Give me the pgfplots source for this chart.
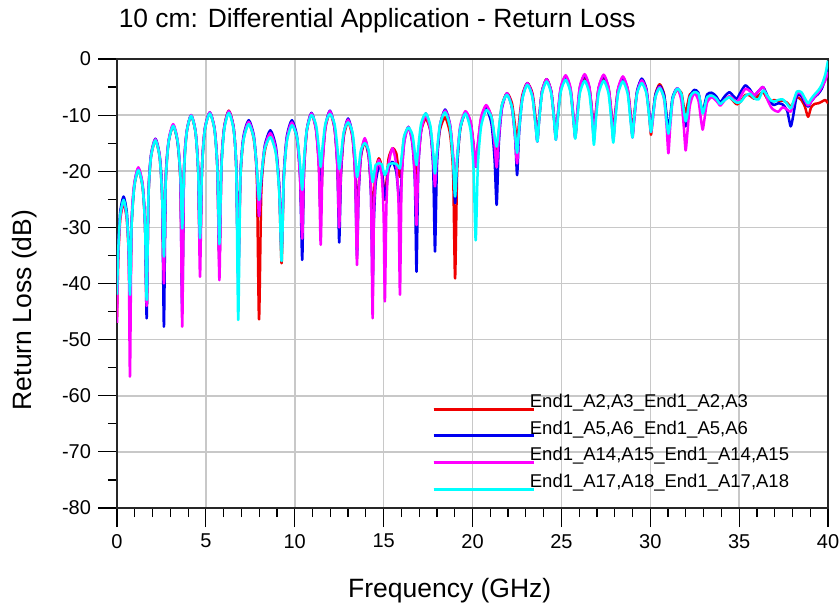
\documentclass[border=0pt]{standalone}
\usepackage{fontspec}
\setmainfont{Liberation Sans}
\usepackage{pgfplots}
\usepackage{pgfplotstable}
\pgfplotsset{compat=1.18}
\definecolor{gridgray}{RGB}{200,200,200}
\definecolor{cR}{RGB}{240,0,0}
\definecolor{cB}{RGB}{0,0,240}
\definecolor{cM}{RGB}{255,0,255}
\definecolor{cC}{RGB}{0,255,255}
\pgfplotstableread{
x R B M C
0.00 -46 -40 -47 -42
0.07 -35.7 -33.5 -35.3 -34.1
0.18 -28.7 -27.3 -28.3 -27.9
0.37 -25.7 -24.5 -25.3 -25.1
0.55 -28.5 -27.3 -28.3 -27.9
0.66 -34.7 -33.5 -35.3 -34.1
0.73 -45 -44 -56.6 -42
0.82 -29.8 -29.5 -29.3 -29.8
0.97 -22.8 -22.5 -22.3 -22.8
1.20 -19.8 -19.5 -19.3 -19.8
1.44 -22.8 -22.5 -22.3 -22.8
1.58 -29.8 -29.5 -29.3 -29.8
1.67 -44 -46.2 -44 -42.9
1.77 -24.5 -24.2 -24.3 -24.5
1.91 -17.5 -17.2 -17.3 -17.5
2.16 -14.5 -14.2 -14.3 -14.5
2.40 -17.5 -17.2 -17.3 -17.5
2.54 -24.5 -24.2 -24.3 -24.5
2.64 -40 -47.7 -40 -35.2
2.74 -21.9 -21.8 -21.6 -21.9
2.90 -14.9 -14.8 -14.6 -14.9
3.16 -11.9 -11.8 -11.6 -11.9
3.41 -14.9 -14.8 -14.6 -14.7
3.57 -21.9 -21.8 -21.6 -20.9
3.67 -40 -45 -47.7 -30.2
3.77 -20.1 -20.0 -20.0 -20.1
3.92 -13.1 -13.0 -13.0 -13.1
4.17 -10.1 -10.0 -10.0 -10.1
4.42 -13.1 -13.0 -13.0 -13.1
4.57 -20.1 -20.0 -20.0 -20.1
4.67 -35 -35 -38.8 -31.9
4.78 -19.6 -19.5 -19.5 -19.7
4.94 -12.6 -12.5 -12.5 -12.7
5.22 -9.6 -9.5 -9.5 -9.7
5.49 -12.6 -12.5 -12.5 -12.7
5.65 -19.6 -19.5 -19.5 -19.7
5.76 -36 -36 -39.4 -33
5.87 -19.2 -19.3 -19.3 -19.6
6.03 -12.2 -12.3 -12.3 -12.6
6.29 -9.2 -9.3 -9.3 -9.6
6.56 -12.2 -12.3 -12.3 -12.6
6.71 -19.2 -19.3 -19.3 -19.6
6.82 -38 -38 -40 -46.5
6.94 -21.4 -20.9 -21.2 -21.6
7.11 -14.4 -13.9 -14.2 -14.6
7.41 -11.4 -10.9 -11.2 -11.6
7.70 -14.4 -13.7 -14.0 -14.2
7.87 -21.4 -19.9 -20.2 -19.6
7.99 -46.4 -28 -28 -25.1
8.12 -23.5 -21.7 -21.2 -20.9
8.31 -16.5 -15.5 -15.8 -16.1
8.63 -13.5 -12.7 -13.2 -13.9
8.94 -16.5 -15.7 -16.2 -16.9
9.13 -23.5 -22.7 -23.2 -23.9
9.26 -36.4 -34 -34 -36
9.38 -21.5 -20.9 -21.3 -21.8
9.55 -14.5 -13.9 -14.3 -14.8
9.84 -11.5 -10.9 -11.3 -11.8
10.13 -14.3 -13.9 -14.3 -14.0
10.30 -20.5 -20.9 -21.3 -18.8
10.42 -30 -35.8 -32 -23.3
10.52 -19.8 -19.6 -19.7 -18.0
10.68 -12.8 -12.6 -12.7 -12.6
10.94 -9.8 -9.6 -9.7 -10.0
11.20 -12.6 -12.4 -12.7 -11.8
11.36 -18.8 -18.6 -19.7 -16.0
11.46 -28 -28 -33.1 -19.2
11.56 -18.6 -18.2 -19.3 -15.8
11.72 -12.4 -12.0 -12.3 -11.6
11.98 -9.6 -9.2 -9.3 -9.8
12.24 -12.4 -12.2 -12.3 -11.6
12.40 -18.6 -19.2 -19.3 -15.8
12.50 -28 -32.7 -30 -19.6
12.60 -20.2 -20.6 -19.8 -17.3
12.75 -14.0 -13.6 -13.6 -13.1
13.00 -11.2 -10.6 -10.8 -11.3
13.25 -14.0 -13.6 -13.8 -13.1
13.40 -20.2 -20.6 -20.8 -17.3
13.50 -28 -35 -36.7 -21
13.59 -22.8 -24.3 -24.1 -19.6
13.72 -17.4 -17.3 -17.1 -16.3
13.94 -14.8 -14.3 -14.1 -15.0
14.16 -17.4 -17.3 -17.1 -16.3
14.29 -22.8 -24.3 -24.1 -19.6
14.38 -28 -40.9 -46.2 -21.9
14.45 -24.7 -29.2 -28.0 -20.8
14.55 -19.9 -22.2 -21.0 -18.9
14.73 -17.7 -19.2 -18.0 -18.6
14.90 -19.3 -20.1 -21.0 -18.8
15.00 -23.0 -23.1 -28.0 -20.1
15.07 -25.1 -25 -43.2 -20.7
15.16 -21.9 -22.9 -25.9 -20.1
15.28 -17.7 -19.6 -18.9 -18.8
15.50 -15.9 -18.3 -15.9 -18.6
15.71 -16.8 -20.1 -18.9 -18.7
15.84 -19.8 -24.3 -25.9 -19.2
15.92 -21 -28 -42 -19.5
16.01 -18.3 -21.1 -22.1 -17.5
16.15 -14.1 -14.9 -15.1 -13.8
16.39 -12.3 -12.1 -12.1 -12.2
16.62 -14.1 -15.1 -14.9 -13.5
16.76 -18.3 -22.1 -21.1 -16.8
16.85 -21.7 -37.9 -29.6 -18.9
16.95 -17.6 -19.7 -19.0 -15.7
17.11 -12.8 -12.7 -12.8 -11.5
17.37 -10.6 -9.7 -10.0 -9.7
17.63 -12.8 -12.7 -12.6 -11.9
17.79 -17.6 -19.7 -18.0 -16.7
17.89 -22 -34.3 -22.7 -20.4
18.00 -17.4 -19.0 -17.2 -16.5
18.17 -12.6 -12.0 -11.8 -11.7
18.46 -10.4 -9.0 -9.2 -9.5
18.74 -13.4 -11.8 -11.8 -12.3
18.91 -20.4 -18.0 -17.2 -18.5
19.02 -39.1 -25.7 -22 -24.5
19.14 -19.5 -18.6 -17.3 -17.7
19.31 -12.5 -12.4 -11.9 -12.3
19.60 -9.5 -9.6 -9.3 -9.7
19.89 -11.3 -11.4 -11.1 -12.7
20.06 -15.5 -15.6 -15.3 -19.7
20.18 -19.2 -19.2 -19.2 -32.3
20.30 -15.5 -15.8 -15.2 -19.1
20.48 -10.7 -11.0 -10.4 -12.1
20.77 -8.5 -8.8 -8.2 -9.1
21.07 -10.3 -11.6 -10.4 -10.4
21.24 -14.5 -17.8 -15.2 -13.7
21.36 -17 -26 -19.3 -15.6
21.48 -13.1 -15.1 -14.1 -12.4
21.65 -8.3 -8.9 -8.7 -8.2
21.94 -6.1 -6.1 -6.1 -6.4
22.22 -7.9 -8.7 -8.7 -8.6
22.40 -12.1 -14.1 -14.1 -13.4
22.51 -15 -20.7 -18.6 -16.7
22.62 -11.3 -13.3 -12.3 -12.6
22.80 -6.5 -7.1 -6.9 -7.2
23.08 -4.3 -4.3 -4.3 -4.6
23.37 -6.1 -6.5 -6.5 -6.8
23.54 -10.3 -11.3 -11.3 -11.6
23.65 -14 -14.7 -14.7 -14.7
23.75 -10.6 -10.6 -10.6 -11.0
23.91 -5.8 -5.8 -5.8 -6.2
24.17 -3.6 -3.6 -3.6 -4.0
24.43 -5.8 -5.8 -5.8 -6.2
24.59 -10.6 -10.6 -10.6 -11.0
24.69 -14 -14 -14.4 -14.4
24.80 -10.4 -10.1 -9.9 -10.7
24.96 -5.6 -5.3 -5.1 -5.9
25.24 -3.4 -3.1 -2.9 -3.7
25.51 -5.6 -5.3 -5.1 -5.9
25.67 -10.4 -10.1 -9.9 -10.7
25.78 -13.5 -14 -14 -14.2
25.89 -10.4 -9.9 -9.7 -10.9
26.04 -5.6 -5.1 -4.9 -6.1
26.31 -3.4 -2.9 -2.7 -3.9
26.57 -5.2 -5.1 -4.9 -6.1
26.73 -9.4 -9.9 -9.7 -10.9
26.83 -13.2 -14 -14.5 -15.3
26.94 -9.4 -10.0 -9.8 -10.9
27.10 -5.2 -5.2 -5.0 -6.1
27.38 -3.4 -3.0 -2.8 -3.9
27.65 -5.2 -5.2 -5.0 -6.1
27.81 -9.4 -10.0 -9.8 -10.9
27.92 -13 -14 -14.5 -14.9
28.03 -9.6 -10.3 -10.1 -11.0
28.19 -5.4 -5.5 -5.3 -6.2
28.46 -3.6 -3.3 -3.1 -4.0
28.73 -5.4 -5.5 -5.3 -6.2
28.89 -9.6 -10.3 -10.1 -11.0
29.00 -13.5 -13.5 -14 -14
29.10 -10.0 -10.5 -10.8 -10.3
29.26 -5.8 -5.7 -6.0 -6.1
29.52 -4.0 -3.5 -3.8 -4.3
29.78 -5.8 -5.3 -5.6 -6.1
29.94 -10.0 -9.5 -9.8 -10.3
30.04 -13.5 -12.5 -13 -13
30.14 -10.5 -10.1 -11.0 -10.5
30.29 -6.3 -6.4 -6.8 -6.8
30.53 -4.5 -4.8 -5.0 -5.2
30.78 -6.3 -6.4 -7.2 -7.0
30.92 -10.5 -10.1 -12.0 -11.2
31.02 -13 -12.5 -16.8 -13.3
31.12 -10.8 -10.5 -12.2 -11.3
31.26 -7.1 -6.8 -7.4 -7.1
31.51 -5.5 -5.2 -5.2 -5.3
31.75 -6.0 -6.5 -7.4 -6.2
31.89 -8.6 -9.8 -12.2 -9.2
31.99 -9.5 -12 -16.3 -11.1
32.09 -8.2 -10.1 -13.1 -9.8
32.23 -6.3 -6.8 -8.3 -6.8
32.47 -6.0 -5.5 -6.1 -5.9
32.71 -6.3 -6.0 -7.4 -6.2
32.85 -8.2 -8.6 -10.7 -8.1
32.95 -9.3 -9.5 -12.6 -9.7
33.05 -8.5 -8.2 -10.7 -8.7
33.20 -6.8 -6.3 -7.7 -6.8
33.45 -6.5 -6.0 -6.8 -6.5
33.70 -6.9 -6.6 -7.4 -7.0
33.85 -7.5 -7.4 -8.0 -7.7
33.95 -7.7 -7.7 -8.3 -8.0
34.20 -7.1 -6.6 -7.3 -7.3
34.45 -6.8 -5.9 -6.6 -6.8
34.65 -7.4 -6.5 -7.1 -7.3
34.87 -8.1 -7.1 -7.7 -7.8
35.10 -7.5 -5.8 -6.6 -7.6
35.35 -6.4 -4.7 -5.3 -6.6
35.60 -6.5 -5.4 -5.7 -6.2
35.85 -7.1 -6.5 -6.4 -7.0
36.10 -6.5 -5.7 -5.7 -7.2
36.35 -5.9 -5.0 -5.0 -5.6
36.60 -7.2 -6.6 -7.3 -6.6
36.80 -7.6 -7.8 -8.6 -7.4
36.96 -7.3 -8.2 -9.1 -7.6
37.20 -7.5 -7.9 -9.4 -7.3
37.45 -7.4 -8.1 -8.6 -7.2
37.70 -7.8 -9.2 -9.0 -8.0
37.90 -8.5 -12.0 -9.4 -8.8
38.05 -7.8 -10.0 -8.0 -7.6
38.25 -6.8 -6.5 -6.1 -5.8
38.50 -7.3 -6.6 -6.2 -5.9
38.70 -8.5 -7.8 -7.4 -7.0
38.88 -10.3 -8.5 -8.3 -7.9
39.05 -8.6 -7.6 -7.6 -7.1
39.25 -8.0 -6.8 -6.7 -6.3
39.45 -7.9 -6.2 -6.0 -5.6
39.65 -7.6 -5.3 -5.0 -4.6
39.85 -7.3 -3.5 -3.8 -2.7
40.00 -7.9 -1.5 -2.3 -0.3
}\data

\begin{document}
\begin{tikzpicture}
\begin{axis}[
  scale only axis, width=355.5pt, height=224.5pt,
  xmin=0, xmax=40, ymin=-80, ymax=0,
  xtick={0,5,...,40}, ytick={-80,-70,...,0},
  minor x tick num=4, minor y tick num=1,
  tick align=outside, xtick pos=left, ytick pos=left,
  major tick length=9.5pt, minor tick length=4.5pt,
  tick style={black, line width=0.6pt},
  grid=major, major grid style={gridgray, line width=0.75pt},
  axis line style={black!85, line width=0.9pt},
  ticklabel style={font=\fontsize{10}{12}\selectfont},
  /pgf/number format/assume math mode=true,
  xlabel={Frequency (GHz)}, ylabel={Return Loss (dB)},
  label style={font=\fontsize{13.25}{15}\selectfont},
  xlabel style={at={(axis description cs:0.468,0)}, anchor=center, yshift=-41.5pt},
  ylabel style={at={(axis description cs:-0.1294,0.441)}, anchor=center},
  title={10 cm: Differential Application - Return Loss},
  title style={at={(axis description cs:0,1)}, anchor=base west, xshift=-2.65pt, yshift=9.8pt, font=\fontsize{13.2}{15}\selectfont},
  legend style={at={(axis cs:17.72,-68.3)}, anchor=west, draw=none, fill=none, inner sep=0pt, font=\fontsize{9.25}{11}\selectfont, row sep=1.2pt},
  legend cell align=left,
  legend image code/.code={\draw[#1, line width=1.5pt, overlay] (0pt,-0.35em) -- (50pt,-0.35em); \path (0pt,-0.35em) -- (45.5pt,-0.35em);},
  every axis plot/.append style={line width=1.25pt, line join=round, smooth, tension=0.4},
]
\addplot[cR] table[x=x,y=R]{\data};
\addlegendentry{End1\_A2,A3\_End1\_A2,A3}
\addplot[cB] table[x=x,y=B]{\data};
\addlegendentry{End1\_A5,A6\_End1\_A5,A6}
\addplot[cM] table[x=x,y=M]{\data};
\addlegendentry{End1\_A14,A15\_End1\_A14,A15}
\addplot[cC] table[x=x,y=C]{\data};
\addlegendentry{End1\_A17,A18\_End1\_A17,A18}
\end{axis}
\pgfresetboundingbox
\useasboundingbox (current axis.south west) ++(-58.5pt,-48.5pt) rectangle ([shift={(6pt,29.5pt)}]current axis.north east);
\end{tikzpicture}
\end{document}
